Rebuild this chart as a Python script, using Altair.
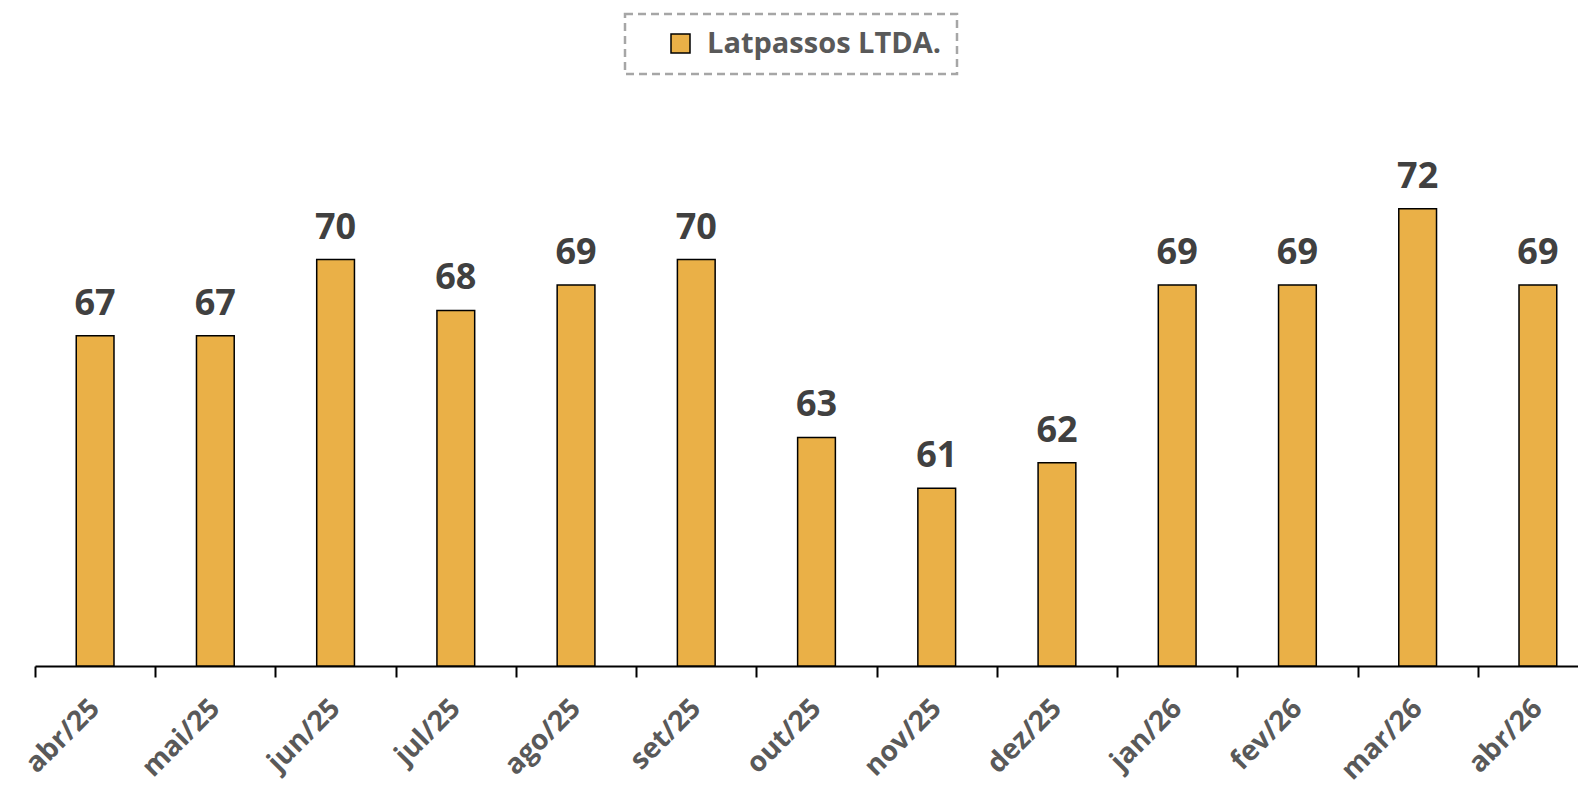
import altair as alt
import pandas as pd

months = ["abr/25", "mai/25", "jun/25", "jul/25", "ago/25", "set/25", "out/25",
          "nov/25", "dez/25", "jan/26", "fev/26", "mar/26", "abr/26"]
values = [67, 67, 70, 68, 69, 70, 63, 61, 62, 69, 69, 72, 69]
series_name = "Latpassos LTDA."
y_min, y_max = 54, 74

df = pd.DataFrame({"mes": months, "valor": values, "serie": [series_name] * len(months)})

FONT = "Open Sans"

x = alt.X("mes:N", sort=months, title=None,
          scale=alt.Scale(range=[0, 1563], paddingInner=0, paddingOuter=0),
          axis=alt.Axis(labelAngle=-45, labelFont=FONT, labelFontSize=28, labelFontWeight="bold",
                        labelColor="#595959", domainColor="black", domainWidth=2,
                        tickColor="black", tickWidth=2, tickSize=11, tickBand="extent",
                        labelPadding=17, labelOffset=-10, grid=False, labelLimit=300))
y = alt.Y("valor:Q", title=None, axis=None,
          scale=alt.Scale(domain=[y_min, y_max], zero=False, nice=False))

bars = alt.Chart(df).mark_bar(stroke="black", strokeWidth=1.5,
                              width=alt.RelativeBandSize(0.314)).encode(
    x=x, y=y, y2=alt.datum(y_min),
    color=alt.Color("serie:N", title=None,
                    scale=alt.Scale(range=["#EAB047"]),
                    legend=alt.Legend(orient="none", legendX=590, legendY=-144,
                                      direction="horizontal", symbolType="square",
                                      symbolSize=361, symbolStrokeColor="black",
                                      symbolStrokeWidth=1.5, symbolOffset=26,
                                      labelFont=FONT,
                                      labelFontSize=29, labelFontWeight="bold",
                                      labelColor="#595959", labelOffset=12, labelLimit=500,
                                      padding=15, strokeColor="#A6A6A6")),
)

labels = alt.Chart(df).mark_text(font=FONT, fontSize=36, fontWeight="bold", color="#404040",
                                 baseline="alphabetic", dy=-21).encode(
    x=alt.X("mes:N", sort=months), y="valor:Q", text="valor:Q")

chart = alt.layer(bars, labels).properties(
    width=1543, height=508,
    autosize=alt.AutoSizeParams(type="none"),
    padding={"left": 27, "top": 150, "right": 0, "bottom": 114},
).configure_view(stroke=None).configure_legend(strokeDash=[8, 5], strokeWidth=2.5)

chart.save("out.html", embed_options={"renderer": "svg", "actions": False})
